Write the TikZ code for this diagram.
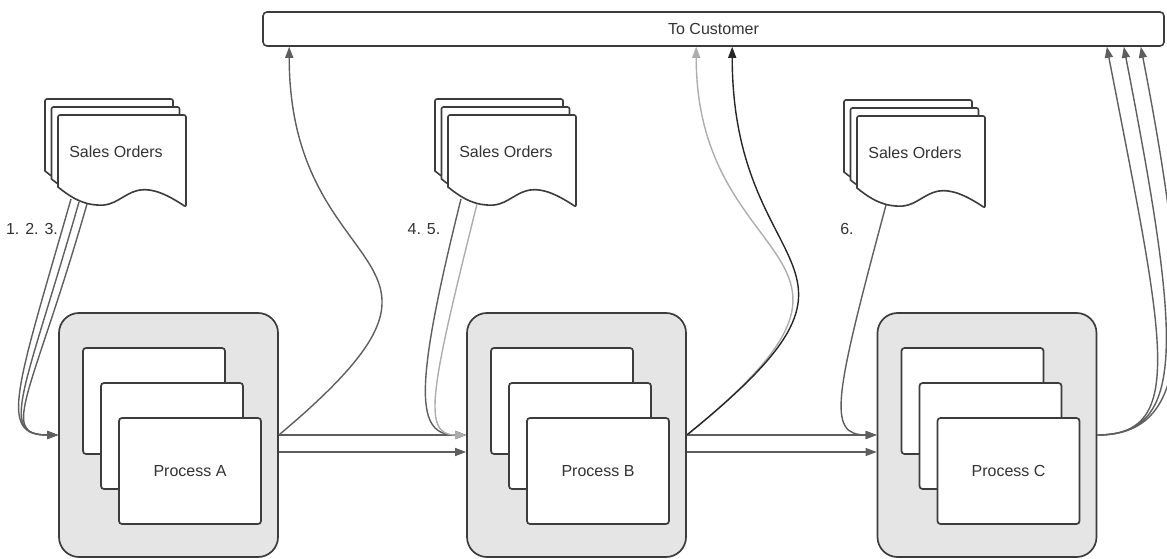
\documentclass[tikz,border=0pt]{standalone}
\usepackage{fontspec}
\setmainfont{Liberation Sans}
\usetikzlibrary{arrows.meta,positioning}
\definecolor{linegray}{HTML}{3C3C3C}
\definecolor{boxfill}{HTML}{E5E5E5}
\definecolor{textgray}{HTML}{333333}
\definecolor{flowgray}{HTML}{5E5E5E}
\definecolor{lightflow}{HTML}{ADADAD}
\definecolor{darkflow}{HTML}{262626}

\begin{document}
\begin{tikzpicture}[x=1pt,y=1pt,on grid,
  txt/.style={font=\fontsize{16}{19}\selectfont,text=textgray},
  proc/.style={draw=linegray,line width=1.7pt,fill=boxfill,rounded corners=20pt,minimum width=219pt,minimum height=244pt,inner sep=0pt},
  card/.style={draw=linegray,line width=1.7pt,fill=white,rounded corners=3pt,minimum width=142pt,minimum height=106pt,inner sep=0pt,txt},
  sheet/.style={draw=linegray,line width=1.6pt,fill=white},
  bar/.style={draw=linegray,line width=1.6pt,rounded corners=4pt,minimum width=901pt,minimum height=34pt,inner sep=0pt,txt},
  arr/.style={-{Triangle[length=11pt,width=8pt]},line width=1.4pt,draw=flowgray},
  larr/.style={arr,draw=lightflow},
  darr/.style={arr,draw=darkflow},
  orders/.pic={
    \foreach \dx/\dy in {-13/16,-6.5/8,0/0}
      \draw[sheet,shift={(\dx,\dy)}] [rounded corners=2pt] (0,-72) -- (0,0) -- (128,0) -- (128,-92) [sharp corners]
        .. controls (110,-80) and (95,-73) .. (82,-75)
        .. controls (65,-78) and (58,-92) .. (39,-90)
        .. controls (22,-89) and (10,-80) .. (0,-72) -- cycle;
    \node[txt] (-t) at (58,-37) {Sales Orders};
    \coordinate (-s1) at (13,-84);
    \coordinate (-s2) at (21,-87);
    \coordinate (-s3) at (29,-89);
  }
]
\useasboundingbox (0,0) rectangle (1167,558);

\node[bar] (cust) at (713.5,529) {To Customer};

\node[proc] (pA) at (168.5,123) {};
\node[card,above left=34pt and 14.5pt of pA] (pA1) {};
\node[card,below right=35pt and 18pt of pA1] (pA2) {};
\node[card,below right=35pt and 18pt of pA2] (pA3) {Process A};

\node[proc] (pB) at (576.5,123) {};
\node[card,above left=34pt and 14.5pt of pB] (pB1) {};
\node[card,below right=35pt and 18pt of pB1] (pB2) {};
\node[card,below right=35pt and 18pt of pB2] (pB3) {Process B};

\node[proc] (pC) at (987,123) {};
\node[card,above left=34pt and 14.5pt of pC] (pC1) {};
\node[card,below right=35pt and 18pt of pC1] (pC2) {};
\node[card,below right=35pt and 18pt of pC2] (pC3) {Process C};

\pic (ordA) at (58,443) {orders};
\pic (ordB) at (448,443) {orders};
\pic (ordC) at (857,442) {orders};

\node[txt] (labA) at (32,329) {1. 2. 3.};
\node[txt] (labB) at (424,329) {4. 5.};
\node[txt] (labC) at (847,329) {6.};

\draw[arr] (pA.east) -- (pB.west);
\draw[arr] ([yshift=-17pt]pA.east) -- ([yshift=-17pt]pB.west);
\draw[arr] (pB.east) -- (pC.west);
\draw[arr] ([yshift=-17pt]pB.east) -- ([yshift=-17pt]pC.west);
\foreach \s in {s1,s2,s3}
  \draw[arr] (ordA-\s) to[out=-106,in=180,out distance=200pt,in distance=60pt] (pA.west);
\draw[arr] (ordB-s1) to[out=-104,in=180,out distance=200pt,in distance=50pt] (pB.west);
\draw[larr] (ordB-s3) to[out=-104,in=180,out distance=190pt,in distance=45pt] (pB.west);
\draw[arr] (ordC-s3) to[out=-105,in=180,out distance=200pt,in distance=50pt] (pC.west);
\draw[arr] (pA.east) to[out=40,in=-90,out distance=295pt,in distance=245pt] ([xshift=27pt]cust.south west);
\draw[larr] (pB.east) to[out=39,in=-90,out distance=300pt,in distance=232pt] ([xshift=434pt]cust.south west);
\draw[darr] (pB.east) to[out=39,in=-90,out distance=285pt,in distance=241pt] ([xshift=470pt]cust.south west);
\foreach \dx in {-58pt,-41pt,-24pt}
  \draw[arr] (pC.east) to[out=0,in=-79,out distance=90pt,in distance=300pt] ([xshift=\dx]cust.south east);
\end{tikzpicture}
\end{document}
